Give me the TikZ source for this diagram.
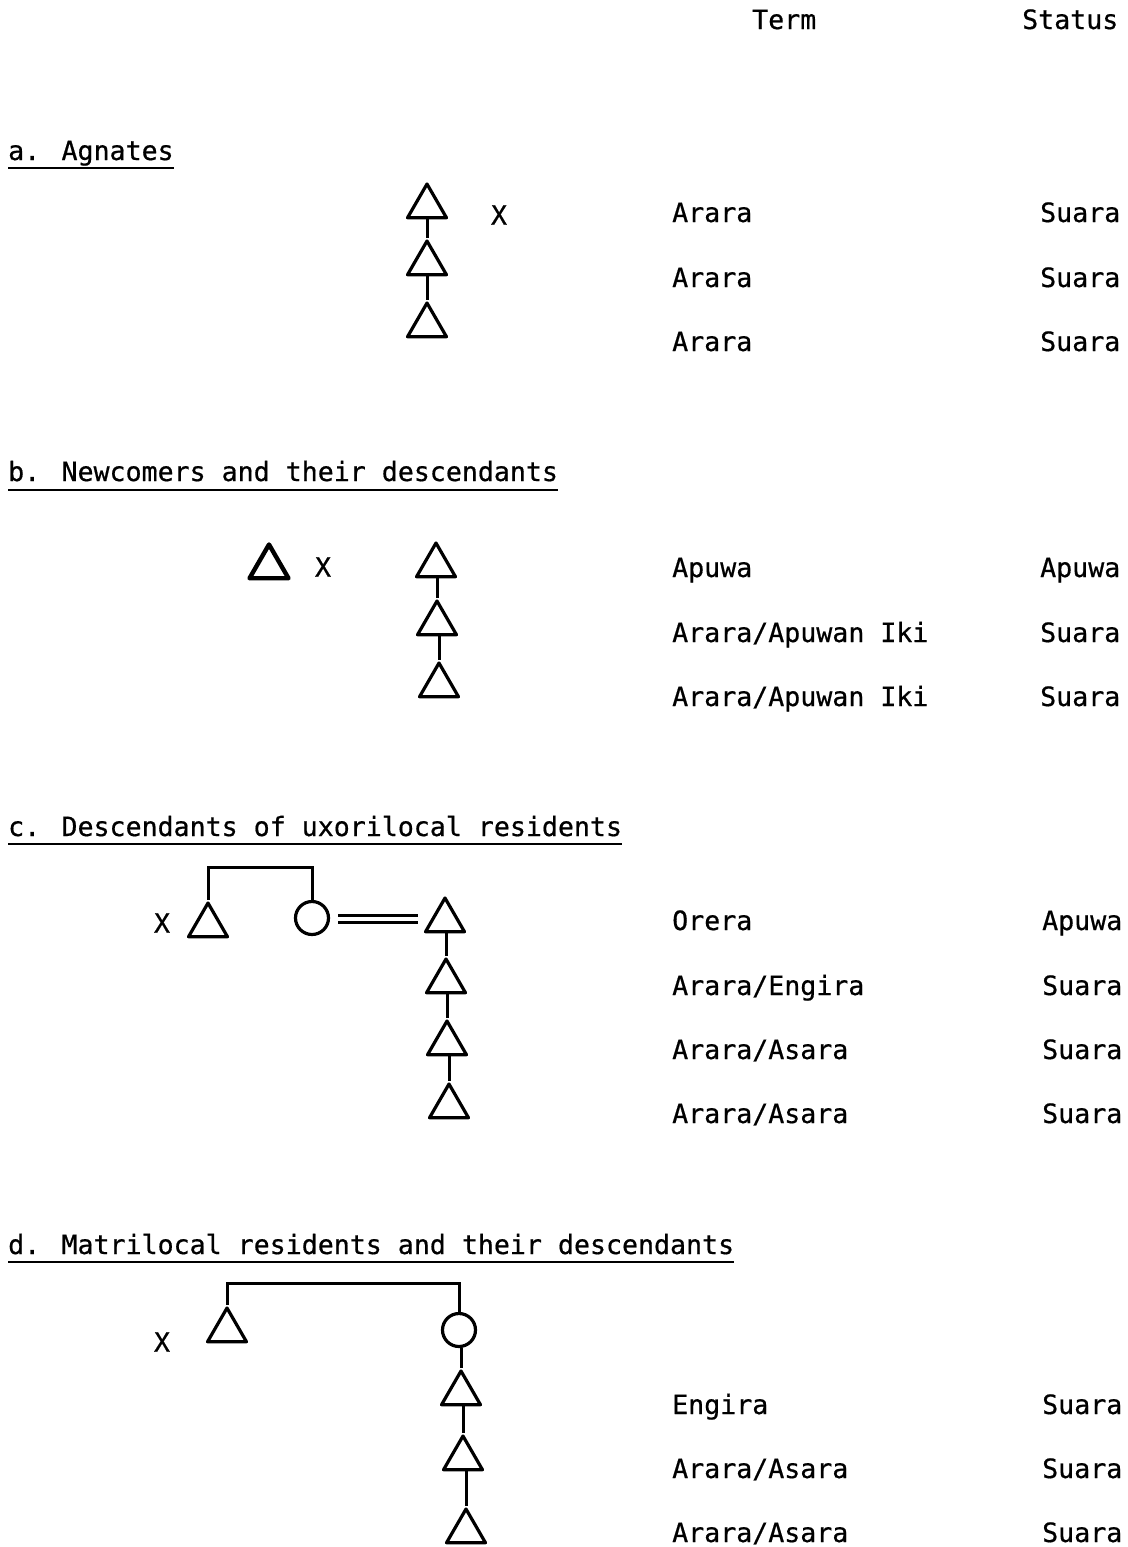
\documentclass[tikz,border=0pt]{standalone}
\usepackage{fontspec}
\newfontfamily\tw{DejaVu Sans Mono}[FakeBold=0.6]
\usetikzlibrary{shapes.geometric,calc}
\tikzset{
  txt/.style={font=\tw\fontsize{26.6}{30}\selectfont, anchor=base west, inner sep=0pt},
  xmark/.style={font=\tw\fontsize{26.6}{30}\selectfont, anchor=center, inner sep=0pt},
  tri/.style={draw, regular polygon, regular polygon sides=3, minimum size=45pt, inner sep=0pt, line width=3.2pt, line join=round},
  fem/.style={draw, circle, minimum size=33pt, inner sep=0pt, line width=3.2pt},
  kin/.style={line width=3pt},
  marriage/.style={double, double distance=3.5pt, line width=3pt},
  uline/.style={line width=2.6pt}
}
\begin{document}
\begin{tikzpicture}[x=1pt,y=-1pt]
\useasboundingbox[fill=white] (0,0) rectangle (1127,1547);

% header
\node[txt] (hterm) at (752,29) {Term};
\node[txt] (hstatus) at (1022,29) {Status};

% ---------- a ----------
\node[txt] (ha) at (8,160) {a. Agnates};
\draw[uline] ([yshift=-8pt]ha.base west) -- ([yshift=-8pt]ha.base east);
\node[tri] (a1) at (427,206.5) {};
\node[tri] (a2) at (427,263.5) {};
\node[tri] (a3) at (427,325.5) {};
\draw[kin] (a2.corner 1) -- (a2.corner 1 |- a1.side 2);
\draw[kin] (a3.corner 1) -- (a3.corner 1 |- a2.side 2);
\node[xmark] (ax) at (499,215) {X};
\node[txt] (at1) at (672,222) {Arara};
\node[txt] (at2) at (672,287) {Arara};
\node[txt] (at3) at (672,351) {Arara};
\node[txt] (as1) at (1040,222) {Suara};
\node[txt] (as2) at (1040,287) {Suara};
\node[txt] (as3) at (1040,351) {Suara};

% ---------- b ----------
\node[txt] (hb) at (8,481) {b. Newcomers and their descendants};
\draw[uline] ([yshift=-9pt]hb.base west) -- ([yshift=-9pt]hb.base east);
\node[tri, line width=4.4pt] (b0) at (269,567) {};
\node[xmark] (bx) at (323,567) {X};
\node[tri] (b1) at (436,565.5) {};
\node[tri] (b2) at (437,623.5) {};
\node[tri] (b3) at (439,685.5) {};
\draw[kin] (b2.corner 1) -- (b2.corner 1 |- b1.side 2);
\draw[kin] (b3.corner 1) -- (b3.corner 1 |- b2.side 2);
\node[txt] (bt1) at (672,577) {Apuwa};
\node[txt] (bt2) at (672,642) {Arara/Apuwan Iki};
\node[txt] (bt3) at (672,706) {Arara/Apuwan Iki};
\node[txt] (bs1) at (1040,577) {Apuwa};
\node[txt] (bs2) at (1040,642) {Suara};
\node[txt] (bs3) at (1040,706) {Suara};

% ---------- c ----------
\node[txt] (hc) at (8,836) {c. Descendants of uxorilocal residents};
\draw[uline] ([yshift=-8pt]hc.base west) -- ([yshift=-8pt]hc.base east);
\node[xmark] (cx) at (162,923) {X};
\node[tri] (cl) at (208,925.5) {};
\node[fem] (cc) at (312,918) {};
\coordinate (cbar) at (0,867);
\draw[kin] (cl.corner 1) |- (cc.north |- cbar) -- (cc.north);
\node[tri] (c1) at (445,920.5) {};
\node[tri] (c2) at (446,981.5) {};
\node[tri] (c3) at (447,1043.5) {};
\node[tri] (c4) at (449,1106.5) {};
\draw[marriage, shorten <=8pt, shorten >=12pt] ([yshift=-1pt]cc.east) -- ([yshift=-1pt]cc.east -| c1.west);
\draw[kin] (c2.corner 1) -- (c2.corner 1 |- c1.side 2);
\draw[kin] (c3.corner 1) -- (c3.corner 1 |- c2.side 2);
\draw[kin] (c4.corner 1) -- (c4.corner 1 |- c3.side 2);
\node[txt] (ct1) at (672,930) {Orera};
\node[txt] (ct2) at (672,995) {Arara/Engira};
\node[txt] (ct3) at (672,1059) {Arara/Asara};
\node[txt] (ct4) at (672,1123) {Arara/Asara};
\node[txt] (cs1) at (1042,930) {Apuwa};
\node[txt] (cs2) at (1042,995) {Suara};
\node[txt] (cs3) at (1042,1059) {Suara};
\node[txt] (cs4) at (1042,1123) {Suara};

% ---------- d ----------
\node[txt] (hd) at (8,1254) {d. Matrilocal residents and their descendants};
\draw[uline] ([yshift=-8pt]hd.base west) -- ([yshift=-8pt]hd.base east);
\node[xmark] (dx) at (162,1342) {X};
\node[tri] (dl) at (227,1330.5) {};
\node[fem] (dc) at (459,1330) {};
\coordinate (dbar) at (0,1283);
\draw[kin] (dl.corner 1) |- (dc.north |- dbar) -- (dc.north);
\node[tri] (d1) at (461,1393.5) {};
\node[tri] (d2) at (463,1458.5) {};
\node[tri] (d3) at (466,1531.5) {};
\draw[kin] (d1.corner 1) -- (d1.corner 1 |- dc.south);
\draw[kin] (d2.corner 1) -- (d2.corner 1 |- d1.side 2);
\draw[kin] (d3.corner 1) -- (d3.corner 1 |- d2.side 2);
\node[txt] (dt1) at (672,1414) {Engira};
\node[txt] (dt2) at (672,1478) {Arara/Asara};
\node[txt] (dt3) at (672,1542) {Arara/Asara};
\node[txt] (ds1) at (1042,1414) {Suara};
\node[txt] (ds2) at (1042,1478) {Suara};
\node[txt] (ds3) at (1042,1542) {Suara};
\end{tikzpicture}
\end{document}
